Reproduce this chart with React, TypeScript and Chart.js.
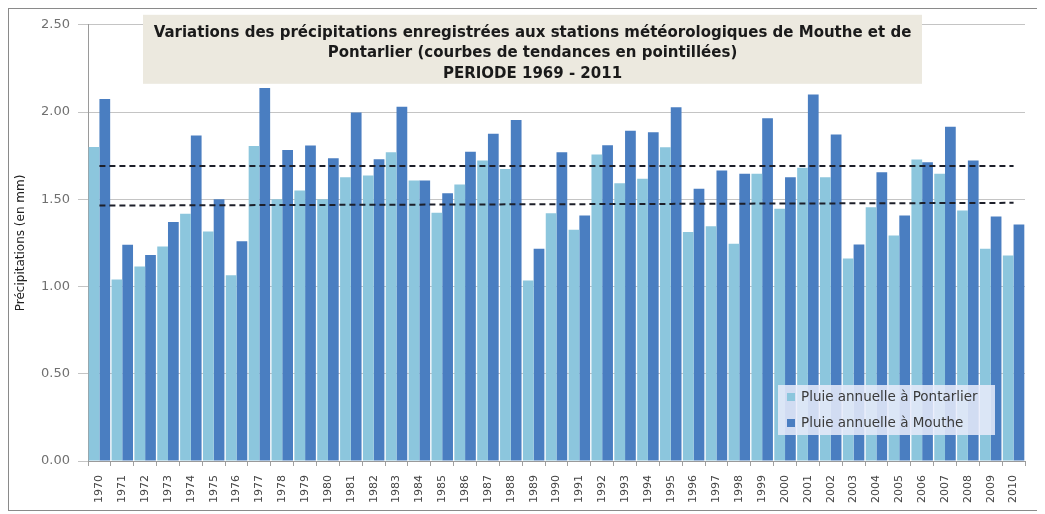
import React, { useEffect, useRef } from 'react';
import { Chart, registerables } from 'chart.js';

Chart.register(...registerables);

const years = [
  '1970', '1971', '1972', '1973', '1974', '1975', '1976', '1977', '1978', '1979',
  '1980', '1981', '1982', '1983', '1984', '1985', '1986', '1987', '1988', '1989',
  '1990', '1991', '1992', '1993', '1994', '1995', '1996', '1997', '1998', '1999',
  '2000', '2001', '2002', '2003', '2004', '2005', '2006', '2007', '2008', '2009',
  '2010',
];

const pontarlier = [
  1.80, 1.04, 1.115, 1.23, 1.417, 1.316, 1.064, 1.806, 1.50, 1.55,
  1.50, 1.626, 1.636, 1.77, 1.608, 1.423, 1.585, 1.722, 1.674, 1.035,
  1.42, 1.325, 1.756, 1.592, 1.617, 1.798, 1.312, 1.346, 1.245, 1.646,
  1.446, 1.68, 1.626, 1.16, 1.455, 1.293, 1.728, 1.646, 1.436, 1.217,
  1.178,
];

const mouthe = [
  2.075, 1.24, 1.18, 1.37, 1.865, 1.50, 1.259, 2.138, 1.783, 1.808,
  1.735, 1.998, 1.73, 2.03, 1.608, 1.535, 1.773, 1.875, 1.955, 1.217,
  1.77, 1.407, 1.81, 1.893, 1.884, 2.027, 1.56, 1.665, 1.646, 1.964,
  1.626, 2.10, 1.871, 1.241, 1.655, 1.407, 1.712, 1.916, 1.722, 1.402,
  1.356,
];

const seriesLabels = ['Pluie annuelle à Pontarlier', 'Pluie annuelle à Mouthe'];
const titleLines = [
  'Variations des précipitations enregistrées aux stations météorologiques de Mouthe et de',
  'Pontarlier (courbes de tendances en pointillées)',
  'PERIODE 1969 - 2011',
];
const yAxisTitle = 'Précipitations (en mm)';

const LIGHT = '#8cc6dd';
const DARK = '#4a7ec1';
const FONT = '"DejaVu Sans", "Liberation Sans", Arial, sans-serif';

function trend(values: number[]): number[] {
  const n = values.length;
  let sx = 0, sy = 0, sxy = 0, sxx = 0;
  values.forEach((v, i) => {
    sx += i; sy += v; sxy += i * v; sxx += i * i;
  });
  const slope = (n * sxy - sx * sy) / (n * sxx - sx * sx);
  const icpt = (sy - slope * sx) / n;
  return values.map((_, i) => icpt + slope * i);
}

const titleBoxPlugin = {
  id: 'titleBox',
  beforeDatasetsDraw(chart: any) {
    const { ctx, chartArea } = chart;
    const x = chartArea.left + 55;
    const y = chartArea.top - 10;
    const w = 779;
    const h = 69;
    ctx.save();
    ctx.fillStyle = '#ece9df';
    ctx.fillRect(x, y, w, h);
    ctx.fillStyle = '#1a1a1a';
    ctx.font = 'bold 15px ' + FONT;
    ctx.textAlign = 'center';
    ctx.textBaseline = 'middle';
    const offs = [18, 38, 59];
    titleLines.forEach((t, i) => ctx.fillText(t, x + w / 2, y + offs[i]));
    ctx.restore();
  },
};

const legendBoxPlugin = {
  id: 'legendBox',
  afterDraw(chart: any) {
    const { ctx, chartArea } = chart;
    const w = 217;
    const h = 50;
    const x = chartArea.right - 30 - w;
    const y = chartArea.bottom - 26 - h;
    ctx.save();
    ctx.fillStyle = 'rgba(232,235,250,0.86)';
    ctx.fillRect(x, y, w, h);
    ctx.font = '13.5px ' + FONT;
    ctx.textBaseline = 'middle';
    ctx.textAlign = 'left';
    const colors = [LIGHT, DARK];
    const rows = [12, 38];
    seriesLabels.forEach((label, i) => {
      ctx.fillStyle = colors[i];
      ctx.fillRect(x + 9, y + rows[i] - 4, 8, 8);
      ctx.fillStyle = '#3a3a3a';
      ctx.fillText(label, x + 23, y + rows[i]);
    });
    ctx.restore();
  },
};

export default function App() {
  const ref = useRef<HTMLCanvasElement | null>(null);

  useEffect(() => {
    if (!ref.current) return;
    const chart = new Chart(ref.current, {
      type: 'bar',
      data: {
        labels: years,
        datasets: [
          {
            type: 'line',
            label: 'Tendance Mouthe',
            data: trend(mouthe),
            borderColor: '#1c1f2a',
            borderWidth: 2,
            borderDash: [6, 4],
            pointRadius: 0,
            fill: false,
            order: 0,
          } as any,
          {
            type: 'line',
            label: 'Tendance Pontarlier',
            data: trend(pontarlier),
            borderColor: '#1c1f2a',
            borderWidth: 2,
            borderDash: [6, 4],
            pointRadius: 0,
            fill: false,
            order: 0,
          } as any,
          {
            label: seriesLabels[0],
            data: pontarlier,
            backgroundColor: LIGHT,
            borderWidth: 0,
            barPercentage: 1,
            categoryPercentage: 0.94,
            order: 1,
          },
          {
            label: seriesLabels[1],
            data: mouthe,
            backgroundColor: DARK,
            borderWidth: 0,
            barPercentage: 1,
            categoryPercentage: 0.94,
            order: 1,
          },
        ],
      },
      options: {
        animation: false,
        responsive: true,
        maintainAspectRatio: false,
        layout: { padding: { top: 15, right: 15, bottom: 4, left: 0 } },
        plugins: {
          legend: { display: false },
          tooltip: { enabled: false },
          title: { display: false },
        },
        scales: {
          x: {
            offset: true,
            grid: {
              display: true,
              drawOnChartArea: false,
              drawTicks: true,
              tickLength: 5,
              color: '#a0a0a0',
              offset: true,
            },
            border: { display: true, color: '#9a9a9a' },
            ticks: {
              minRotation: 90,
              maxRotation: 90,
              autoSkip: false,
              padding: 9,
              color: '#444',
              font: { family: FONT, size: 11 },
            },
            afterFit(scale: any) {
              scale.height = 45;
            },
          },
          y: {
            min: 0,
            max: 2.5,
            ticks: {
              stepSize: 0.5,
              padding: 8,
              color: '#707070',
              font: { family: FONT, size: 13 },
              callback: (v: any) => Number(v).toFixed(2),
            },
            grid: { color: '#c4c4c4', tickLength: 10, lineWidth: 1 },
            border: { display: true, color: '#9a9a9a' },
            title: {
              display: true,
              text: yAxisTitle,
              color: '#222',
              padding: { top: 5, bottom: 0 },
              font: { family: FONT, size: 12 },
            },
            afterFit(scale: any) {
              scale.width = 79;
            },
          },
        },
      },
      plugins: [titleBoxPlugin, legendBoxPlugin],
    });
    return () => chart.destroy();
  }, []);

  return (
    <div
      style={{
        width: 1031,
        height: 501,
        border: '1px solid #8a8a8a',
        position: 'relative',
        background: '#fff',
      }}
    >
      <canvas ref={ref} />
    </div>
  );
}
